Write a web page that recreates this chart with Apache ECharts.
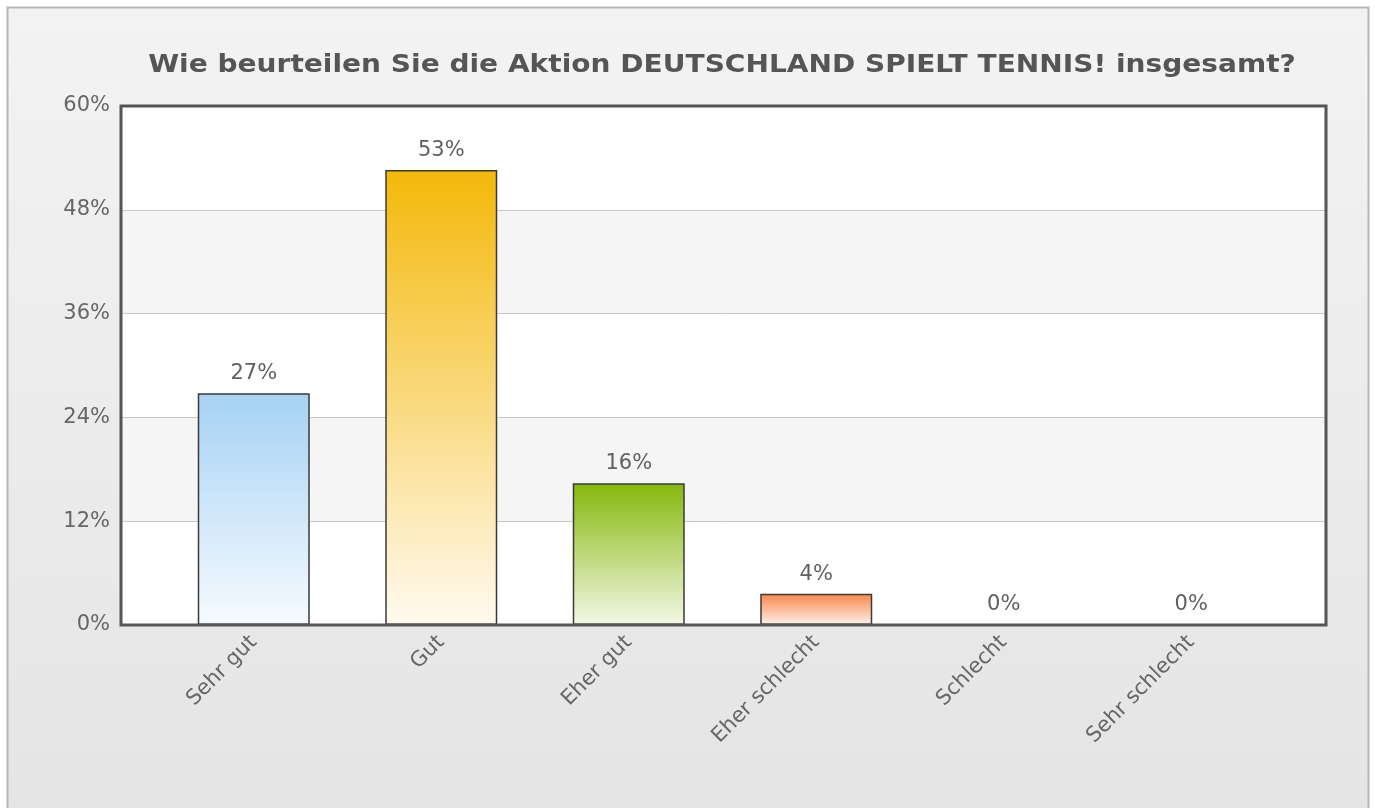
<!DOCTYPE html>
<html>
<head>
<meta charset="utf-8">
<script src="https://cdn.jsdelivr.net/npm/echarts@6/dist/echarts.min.js"></script>
<style>
html,body{margin:0;padding:0;background:#fff;}
#chart{width:1375px;height:808px;}
</style>
</head>
<body>
<div id="chart"></div>
<script>
var titleText = 'Wie beurteilen Sie die Aktion DEUTSCHLAND SPIELT TENNIS! insgesamt?';
var categories = ['Sehr gut', 'Gut', 'Eher gut', 'Eher schlecht', 'Schlecht', 'Sehr schlecht'];
var values = [26.8, 52.6, 16.4, 3.6, 0, 0];
var valueLabels = ['27%', '53%', '16%', '4%', '0%', '0%'];
var yTicks = [0, 12, 24, 36, 48, 60];
var barTopColors = ['#a6d2f4', '#f4b80a', '#86b80c', '#f7874a', '#cccccc', '#cccccc'];
var barBottomColors = ['#f7fbff', '#fffaf0', '#f3f8e6', '#fff1e8', '#ffffff', '#ffffff'];

var PL = 121, PT = 106, PW = 1205, PH = 519;
var font = 'DejaVu Sans, Verdana, sans-serif';

var chart = echarts.init(document.getElementById('chart'), null, {renderer: 'canvas'});

var barData = values.map(function (v, i) {
  return {
    value: v,
    itemStyle: {
      color: new echarts.graphic.LinearGradient(0, 0, 0, 1, [
        {offset: 0, color: barTopColors[i]},
        {offset: 1, color: barBottomColors[i]}
      ])
    }
  };
});

chart.setOption({
  animation: false,
  backgroundColor: '#ffffff',
  graphic: [
    {
      type: 'rect', z: -10, silent: true,
      shape: {x: 7.5, y: 7.5, width: 1361, height: 830},
      style: {
        fill: new echarts.graphic.LinearGradient(0, 0, 0, 1, [
          {offset: 0, color: '#f3f3f3'}, {offset: 1, color: '#e4e4e4'}
        ]),
        stroke: '#b8b8b8', lineWidth: 2
      }
    },
    {
      type: 'text', z: 10, silent: true,
      x: 722, y: 65, scaleX: 1.1, scaleY: 1,
      style: {
        text: titleText, fontFamily: font, fontWeight: 'bold', fontSize: 25.5,
        fill: '#555555', align: 'center', verticalAlign: 'middle'
      }
    },
    {
      type: 'rect', z: 100, silent: true,
      shape: {x: PL, y: PT, width: PW, height: PH},
      style: {fill: 'none', stroke: '#555555', lineWidth: 3}
    }
  ],
  grid: [
    {left: PL, top: PT, width: PW, height: PH, show: true, backgroundColor: '#ffffff', borderWidth: 0, containLabel: false},
    {left: 160, top: PT, width: 1125, height: PH, containLabel: false}
  ],
  xAxis: [
    {type: 'value', gridIndex: 0, show: false, min: 0, max: 1},
    {
      type: 'category', gridIndex: 1, data: categories,
      axisLine: {show: false}, axisTick: {show: false},
      axisLabel: {rotate: 45, margin: 14, fontFamily: font, fontSize: 21, color: '#666666', interval: 0}
    }
  ],
  yAxis: [
    {
      type: 'value', gridIndex: 0, min: yTicks[0], max: yTicks[yTicks.length - 1], interval: 12,
      axisLine: {show: false}, axisTick: {show: false},
      axisLabel: {formatter: '{value}%', margin: 11, fontFamily: font, fontSize: 21, color: '#666666'},
      splitLine: {show: true, lineStyle: {color: '#c8c8c8', width: 1}},
      splitArea: {show: true, areaStyle: {color: ['#ffffff', '#f5f5f5']}}
    },
    {type: 'value', gridIndex: 1, min: 0, max: 60, show: false}
  ],
  series: [{
    type: 'bar', xAxisIndex: 1, yAxisIndex: 1,
    barWidth: 112,
    data: barData,
    itemStyle: {borderColor: '#3a3a3a', borderWidth: 1.5},
    label: {
      show: true, position: 'top', distance: 9,
      fontFamily: font, fontSize: 21, color: '#606060',
      formatter: function (p) { return valueLabels[p.dataIndex]; }
    }
  }]
});
</script>
</body>
</html>
